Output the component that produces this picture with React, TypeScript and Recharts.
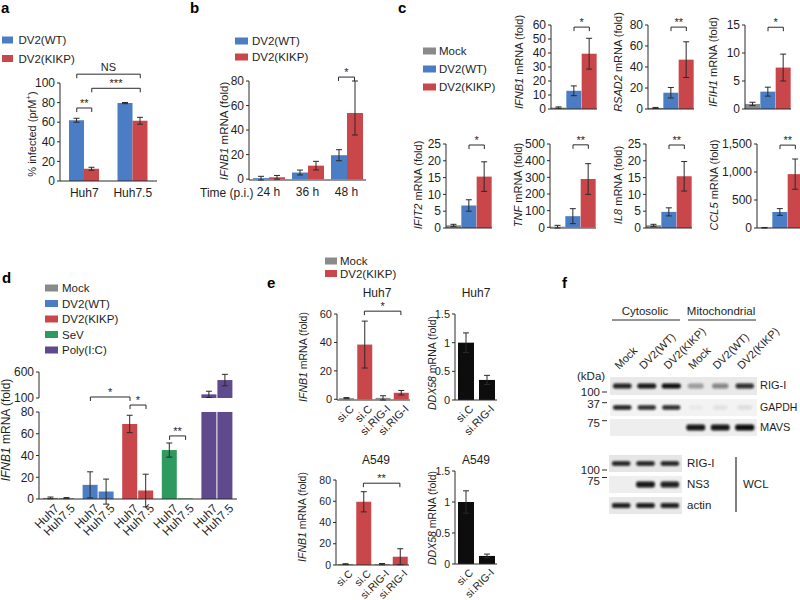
import React from 'react'
import { BarChart, Bar, XAxis, YAxis, ErrorBar, Cell, ReferenceLine } from 'recharts'

const BLUE = '#4a7dc3'
const RED = '#c9474b'
const GRAY = '#8a8a8a'
const GREEN = '#2f9a5d'
const PURPLE = '#5e4a8c'
const BLACK = '#0d0d0d'
const INK = '#1e1e1e'
const AXIS = '#2a2a2a'
const FONT = 'Arial, "Liberation Sans", Helvetica, sans-serif'

type Err = number | [number, number]

// a — % infected (prM+)
const aCells = ['Huh7', 'Huh7.5']
const aWT = [62, 79.5]
const aWTErr = [2, 0.6]
const aKIKP = [12.5, 61.5]
const aKIKPErr = [1.5, 3.5]
const aTicks = [0, 20, 40, 60, 80, 100]

// b — IFNB1 time course
const bTimes = ['24 h', '36 h', '48 h']
const bWT = [0.8, 5.4, 19.5]
const bWTErr = [1.5, 2, 4.5]
const bKIKP = [1.5, 11, 54]
const bKIKPErr: Err[] = [1.5, 3.5, [18, 26]]
const bTicks = [0, 20, 40, 60, 80]

// c — ISG panel (Mock, WT, KIKP)
const cGroups = ['Mock', 'DV2(WT)', 'DV2(KIKP)']
const cColors = [GRAY, BLUE, RED]
const cIFNB1 = [1, 13, 39.5]
const cIFNB1Err = [0.5, 3.5, 11]
const cRSAD2 = [1, 15.5, 47]
const cRSAD2Err = [0.5, 5, 17]
const cIFIH1 = [0.9, 3.1, 7.4]
const cIFIH1Err = [0.3, 0.8, 2.4]
const cIFIT2 = [0.8, 6.7, 15.3]
const cIFIT2Err = [0.3, 1.7, 4.4]
const cTNF = [4, 67, 290]
const cTNFErr = [8, 45, 92]
const cIL8 = [0.8, 4.8, 15.4]
const cIL8Err = [0.3, 1.2, 4.4]
const cCCL5 = [5, 286, 962]
const cCCL5Err = [5, 60, 270]

// d — IFNB1 in Huh7 / Huh7.5
const dTreat = ['Mock', 'DV2(WT)', 'DV2(KIKP)', 'SeV', 'Poly(I:C)']
const dColors = [GRAY, BLUE, RED, GREEN, PURPLE]
const dCells = ['Huh7', 'Huh7.5']
const dHuh7 = [1, 13, 69, 45, 170]
const dHuh7Err = [0.8, 12, 8, 6.5, 60]
const dHuh75 = [0.8, 6.8, 7.8, 0.5, 445]
const dHuh75Err = [0.5, 11.5, 15, 0, 110]

// e — RIG-I knockdown
const eSi = ['si.C', 'si.C', 'si.RIG-I', 'si.RIG-I']
const eColors = [GRAY, RED, GRAY, RED]
const eHuh7 = [0.8, 38.5, 1, 4.6]
const eHuh7Err = [0.4, 16.5, 1.5, 1.6]
const eA549 = [0.8, 59.5, 0.8, 7.8]
const eA549Err = [0.4, 9.5, 0.6, 7.5]
const eDdxSi = ['si.C', 'si.RIG-I']
const eDdxHuh7 = [1, 0.35]
const eDdxHuh7Err = [0.17, 0.08]
const eDdxA549 = [1, 0.13]
const eDdxA549Err = [0.18, 0.03]

// f — blot band intensities (0..1)
const fLanes = ['Mock', 'DV2(WT)', 'DV2(KIKP)', 'Mock', 'DV2(WT)', 'DV2(KIKP)']
const fRigI = [0.9, 0.95, 1, 0.35, 0.45, 0.85]
const fGapdh = [0.9, 0.85, 0.85, 0.04, 0.07, 0.09]
const fMavs = [0, 0, 0, 0.95, 0.95, 1]
const fWclRigI = [0.9, 0.9, 0.9]
const fWclNs3 = [0, 0.95, 0.9]
const fWclActin = [0.9, 0.92, 0.9]

type Series = { key: string; values: number[]; errs?: Err[]; fill: string | string[] }
type Bracket = { a: [number, number]; b: [number, number]; y: number; text: string }
type PanelProps = {
  x: number
  y: number
  w: number
  h: number
  cats: string[]
  series: Series[]
  barSize: number
  barGap?: number
  domain: [number, number]
  ticks: number[]
  fmt?: (v: number) => string
  xMode: 'cat' | 'rot' | 'bar' | 'line' | 'hidden'
  barLabels?: string[]
  brackets?: Bracket[]
  overflow?: boolean
  fs?: number
}

const L = 60
const T = 40
const R = 10
const B = 50
const YW = 34

function BarPanel(p: PanelProps) {
  const n = p.cats.length
  const nSer = p.series.length
  const gap = p.barGap ?? 0
  const bw = p.w / n
  const [lo, hi] = p.domain
  const fs = p.fs ?? 12
  const step = p.barSize + gap
  // bar centre in the hidden numeric axis' units (one unit per category)
  const ctr = (ci: number, si: number) => ci + 0.5 + ((si - (nSer - 1) / 2) * step) / bw

  const data = p.cats.map((cat, i) => {
    const row: Record<string, unknown> = { cat, u: i + 0.5 }
    p.series.forEach((s) => {
      const v = s.values[i]
      row[s.key] = v < lo ? null : v
      row[s.key + 'Err'] = v < lo || v > hi || !s.errs ? null : s.errs[i]
    })
    return row
  })

  const rot = (x: number, y: number, label: string, key?: number) => (
    <text
      key={key}
      transform={`translate(${x + 3},${y + 4}) rotate(-45)`}
      textAnchor="end"
      dy="0.71em"
      fontSize={fs}
      fill={INK}
    >
      {label}
    </text>
  )
  const hTick = (props: any) => (
    <text x={props.x} y={props.y + 16} textAnchor="middle" fontSize={fs} fill={INK}>
      {props.payload.value}
    </text>
  )
  const rTick = (props: any) => rot(props.x, props.y, props.payload.value)
  const perBarTick = (props: any) => (
    <g>{(p.barLabels ?? []).map((lab, si) => rot(props.x + (si - (nSer - 1) / 2) * step, props.y, lab, si))}</g>
  )

  const drop = (4 * (hi - lo)) / p.h
  const tick =
    p.xMode === 'cat' ? hTick : p.xMode === 'rot' ? rTick : p.xMode === 'bar' ? perBarTick : false

  return (
    <div style={{ position: 'absolute', left: p.x - L, top: p.y - T }}>
      <BarChart
        width={L + p.w + R}
        height={T + p.h + B}
        data={data}
        barGap={gap}
        margin={{ top: T, right: R, bottom: p.xMode === 'hidden' ? B : 0, left: L - YW }}
      >
        <XAxis
          dataKey="cat"
          hide={p.xMode === 'hidden'}
          height={B}
          interval={0}
          tickLine={false}
          tickSize={0}
          tickMargin={0}
          axisLine={{ stroke: AXIS }}
          tick={tick}
        />
        <XAxis xAxisId="n" dataKey="u" type="number" domain={[0, n]} allowDataOverflow hide height={0} />
        <YAxis
          type="number"
          domain={p.domain}
          ticks={p.ticks}
          interval={0}
          allowDataOverflow={!!p.overflow}
          width={YW}
          tickFormatter={p.fmt}
          tick={{ fontSize: fs, fill: INK }}
          tickSize={3}
          tickMargin={2}
          axisLine={{ stroke: AXIS }}
          tickLine={{ stroke: AXIS }}
        />
        {p.series.map((s) => (
          <Bar
            key={s.key}
            dataKey={s.key}
            barSize={p.barSize}
            fill={typeof s.fill === 'string' ? s.fill : undefined}
            isAnimationActive={false}
          >
            {Array.isArray(s.fill) && s.fill.map((c, i) => <Cell key={i} fill={c} />)}
            <ErrorBar dataKey={s.key + 'Err'} width={3} strokeWidth={1} stroke={AXIS} direction="y" />
          </Bar>
        ))}
        {(p.brackets ?? []).flatMap((b, k) => {
          const x1 = ctr(b.a[0], b.a[1])
          const x2 = ctr(b.b[0], b.b[1])
          return [
            <ReferenceLine
              key={`h${k}`}
              xAxisId="n"
              segment={[
                { x: x1, y: b.y },
                { x: x2, y: b.y },
              ]}
              stroke={AXIS}
              ifOverflow="visible"
              label={{ value: b.text, position: 'top', offset: b.text === 'NS' ? 3 : 1, fontSize: 11, fill: INK }}
            />,
            <ReferenceLine
              key={`l${k}`}
              xAxisId="n"
              segment={[
                { x: x1, y: b.y },
                { x: x1, y: b.y - drop },
              ]}
              stroke={AXIS}
              ifOverflow="visible"
            />,
            <ReferenceLine
              key={`r${k}`}
              xAxisId="n"
              segment={[
                { x: x2, y: b.y },
                { x: x2, y: b.y - drop },
              ]}
              stroke={AXIS}
              ifOverflow="visible"
            />,
          ]
        })}
      </BarChart>
    </div>
  )
}

function YLab({ x, y, gene, rest, fs }: { x: number; y: number; gene?: string; rest: string; fs: number }) {
  return (
    <text
      transform={`translate(${x},${y}) rotate(-90)`}
      textAnchor="middle"
      dominantBaseline="central"
      fontSize={fs}
      fill={INK}
    >
      {gene && <tspan fontStyle="italic">{gene}</tspan>}
      {rest}
    </text>
  )
}

function Key({ x, tx, rows, items, w, fs }: { x: number; tx: number; rows: number[]; items: [string, string][]; w: number; fs: number }) {
  return (
    <g>
      {items.map(([label, color], i) => (
        <g key={label + i}>
          <rect x={x} y={rows[i] - 3.5} width={w} height={7} fill={color} />
          <text x={tx} y={rows[i]} dominantBaseline="central" fontSize={fs} fill={INK}>
            {label}
          </text>
        </g>
      ))}
    </g>
  )
}

function Strip({ x, y, w, h, bg, vals, bandH }: { x: number; y: number; w: number; h: number; bg: string; vals: number[]; bandH: number }) {
  const pitch = w / vals.length
  return (
    <g>
      <rect x={x} y={y} width={w} height={h} fill={bg} />
      {vals.map((v, i) => {
        const bwid = 14 + 5 * v
        return (
          <rect
            key={i}
            x={x + pitch * (i + 0.5) - bwid / 2}
            y={y + h / 2 - bandH / 2}
            width={bwid}
            height={bandH}
            rx={2}
            fill="#080808"
            opacity={v}
            filter="url(#blot)"
          />
        )
      })}
    </g>
  )
}

const cPanels = [
  { gene: 'IFNB1', v: cIFNB1, e: cIFNB1Err, dom: [0, 60], ticks: [0, 10, 20, 30, 40, 50, 60], by: 58.5, s: '*', x: 551, y: 25, lx: 519, ly: 62 },
  { gene: 'RSAD2', v: cRSAD2, e: cRSAD2Err, dom: [0, 80], ticks: [0, 20, 40, 60, 80], by: 78, s: '**', x: 648, y: 25, lx: 617.5, ly: 62 },
  { gene: 'IFIH1', v: cIFIH1, e: cIFIH1Err, dom: [0, 15], ticks: [0, 5, 10, 15], by: 14.6, s: '*', x: 745, y: 25, lx: 713, ly: 62 },
  { gene: 'IFIT2', v: cIFIT2, e: cIFIT2Err, dom: [0, 25], ticks: [0, 5, 10, 15, 20, 25], by: 24.7, s: '*', x: 446, y: 144, lx: 417.5, ly: 185 },
  { gene: 'TNF', v: cTNF, e: cTNFErr, dom: [0, 500], ticks: [0, 100, 200, 300, 400, 500], by: 495, s: '**', x: 550, y: 144, lx: 517.5, ly: 185 },
  { gene: 'IL8', v: cIL8, e: cIL8Err, dom: [0, 25], ticks: [0, 5, 10, 15, 20, 25], by: 24.7, s: '**', x: 646, y: 144, lx: 617.5, ly: 185 },
  { gene: 'CCL5', v: cCCL5, e: cCCL5Err, dom: [0, 1500], ticks: [0, 500, 1000, 1500], by: 1480, s: '**', x: 757, y: 144, lx: 714, ly: 185 },
]

export default function App() {
  const blotLane = (i: number) => 610 + 24.5 * (i + 0.5)
  return (
    <div
      style={{
        position: 'fixed',
        left: 0,
        top: 0,
        width: 800,
        height: 600,
        overflow: 'hidden',
        background: '#fff',
        fontFamily: FONT,
      }}
    >
      {/* a */}
      <BarPanel
        x={60}
        y={83}
        w={97}
        h={98}
        cats={aCells}
        series={[
          { key: 'wt', values: aWT, errs: aWTErr, fill: BLUE },
          { key: 'kikp', values: aKIKP, errs: aKIKPErr, fill: RED },
        ]}
        barSize={15}
        domain={[0, 100]}
        ticks={aTicks}
        xMode="cat"
        brackets={[
          { a: [0, 0], b: [0, 1], y: 74.5, text: '**' },
          { a: [0, 1], b: [1, 1], y: 94.6, text: '***' },
          { a: [0, 0], b: [1, 1], y: 109, text: 'NS' },
        ]}
      />
      {/* b */}
      <BarPanel
        x={249}
        y={81}
        w={117}
        h={99}
        cats={bTimes}
        series={[
          { key: 'wt', values: bWT, errs: bWTErr, fill: BLUE },
          { key: 'kikp', values: bKIKP, errs: bKIKPErr, fill: RED },
        ]}
        barSize={16}
        domain={[0, 80]}
        ticks={bTicks}
        xMode="cat"
        brackets={[{ a: [2, 0], b: [2, 1], y: 83.2, text: '*' }]}
      />
      {/* c */}
      {cPanels.map((c) => (
        <BarPanel
          key={c.gene}
          x={c.x}
          y={c.y}
          w={46}
          h={84}
          cats={cGroups}
          series={[{ key: 'v', values: c.v, errs: c.e, fill: cColors }]}
          barSize={15}
          domain={c.dom as [number, number]}
          ticks={c.ticks}
          fmt={(v) => v.toLocaleString('en-US')}
          xMode="line"
          brackets={[{ a: [1, 0], b: [2, 0], y: c.by, text: c.s }]}
        />
      ))}
      {/* d — broken axis: upper segment then lower segment */}
      <BarPanel
        x={39}
        y={372}
        w={198}
        h={26}
        cats={dTreat}
        series={[
          { key: 'h7', values: dHuh7, errs: dHuh7Err, fill: dColors },
          { key: 'h75', values: dHuh75, errs: dHuh75Err, fill: dColors },
        ]}
        barSize={15}
        barGap={1}
        domain={[100, 600]}
        ticks={[100, 600]}
        xMode="hidden"
        overflow
      />
      <BarPanel
        x={39}
        y={412}
        w={198}
        h={87}
        cats={dTreat}
        series={[
          { key: 'h7', values: dHuh7, errs: dHuh7Err, fill: dColors },
          { key: 'h75', values: dHuh75, errs: dHuh75Err, fill: dColors },
        ]}
        barSize={15}
        barGap={1}
        domain={[0, 80]}
        ticks={[0, 20, 40, 60, 80]}
        xMode="bar"
        barLabels={dCells}
        overflow
        brackets={[
          { a: [1, 0], b: [2, 0], y: 93.8, text: '*' },
          { a: [2, 0], b: [2, 1], y: 86.4, text: '*' },
          { a: [3, 0], b: [3, 1], y: 58, text: '**' },
        ]}
      />
      {/* e */}
      <BarPanel
        x={337}
        y={314}
        w={73}
        h={86}
        cats={eSi}
        series={[{ key: 'v', values: eHuh7, errs: eHuh7Err, fill: eColors }]}
        barSize={15}
        domain={[0, 60]}
        ticks={[0, 20, 40, 60]}
        xMode="rot"
        fs={11}
        brackets={[{ a: [1, 0], b: [3, 0], y: 62, text: '*' }]}
      />
      <BarPanel
        x={455}
        y={314}
        w={42}
        h={86}
        cats={eDdxSi}
        series={[{ key: 'v', values: eDdxHuh7, errs: eDdxHuh7Err, fill: BLACK }]}
        barSize={16}
        domain={[0, 1.5]}
        ticks={[0, 0.5, 1, 1.5]}
        xMode="rot"
        fs={11}
      />
      <BarPanel
        x={336}
        y={480}
        w={73}
        h={85}
        cats={eSi}
        series={[{ key: 'v', values: eA549, errs: eA549Err, fill: eColors }]}
        barSize={15}
        domain={[0, 80]}
        ticks={[0, 20, 40, 60, 80]}
        xMode="rot"
        fs={10.5}
        brackets={[{ a: [1, 0], b: [3, 0], y: 77, text: '**' }]}
      />
      <BarPanel
        x={455}
        y={471}
        w={42}
        h={93}
        cats={eDdxSi}
        series={[{ key: 'v', values: eDdxA549, errs: eDdxA549Err, fill: BLACK }]}
        barSize={16}
        domain={[0, 1.5]}
        ticks={[0, 0.5, 1, 1.5]}
        xMode="rot"
        fs={10.5}
      />

      {/* text, legends and the blot */}
      <svg width={800} height={600} style={{ position: 'absolute', left: 0, top: 0, pointerEvents: 'none' }}>
        <defs>
          <filter id="blot" x="-20%" y="-100%" width="140%" height="300%">
            <feGaussianBlur stdDeviation="0.8" />
          </filter>
        </defs>
        {[
          ['a', 1, 13],
          ['b', 190, 13],
          ['c', 398, 13],
          ['d', 2, 283],
          ['e', 267, 288],
          ['f', 562, 288],
        ].map(([t, x, y]) => (
          <text key={t as string} x={x as number} y={y as number} fontSize={15} fontWeight="bold" fill="#000">
            {t}
          </text>
        ))}

        <Key x={2} tx={18.5} rows={[40, 58.5]} w={11} fs={11.5} items={[['DV2(WT)', BLUE], ['DV2(KIKP)', RED]]} />
        <Key x={235} tx={252} rows={[41, 57]} w={13} fs={11.5} items={[['DV2(WT)', BLUE], ['DV2(KIKP)', RED]]} />
        <Key x={423} tx={439} rows={[51, 69, 87]} w={13} fs={11.5} items={cGroups.map((g, i) => [g, cColors[i]] as [string, string])} />
        <Key x={45} tx={62} rows={[288, 303.5, 319, 334.5, 350]} w={13} fs={11.5} items={dTreat.map((g, i) => [g, dColors[i]] as [string, string])} />
        <Key x={325} tx={340} rows={[261, 273.5]} w={12} fs={11.5} items={[['Mock', GRAY], ['DV2(KIKP)', RED]]} />

        <text transform="translate(31.5,134) rotate(-90)" textAnchor="middle" dominantBaseline="central" fontSize={11} fill={INK}>
          % infected (prM<tspan fontSize={8} dy={-4}>+</tspan>
          <tspan dy={4}>)</tspan>
        </text>
        <YLab x={224} y={131} gene="IFNB1" rest=" mRNA (fold)" fs={11.5} />
        {cPanels.map((c) => (
          <YLab key={c.gene} x={c.lx} y={c.ly} gene={c.gene} rest=" mRNA (fold)" fs={11} />
        ))}
        <YLab x={6} y={430} gene="IFNB1" rest=" mRNA (fold)" fs={12} />
        <YLab x={302.5} y={357} gene="IFNB1" rest=" mRNA (fold)" fs={10.5} />
        <YLab x={432} y={363} gene="DDX58" rest=" mRNA (fold)" fs={10.5} />
        <YLab x={302} y={517} gene="IFNB1" rest=" mRNA (fold)" fs={10.5} />
        <YLab x={432} y={518} gene="DDX58" rest=" mRNA (fold)" fs={10.5} />

        <text x={200} y={197} fontSize={12} fill={INK}>
          Time (p.i.)
        </text>
        {[
          ['Huh7', 377, 293],
          ['Huh7', 476, 293],
          ['A549', 376, 460],
          ['A549', 476, 460],
        ].map(([t, x, y], i) => (
          <text key={i} x={x as number} y={y as number} textAnchor="middle" dominantBaseline="central" fontSize={12} fill={INK}>
            {t}
          </text>
        ))}

        {/* f */}
        <text x={645} y={315} textAnchor="middle" fontSize={11.5} fill={INK}>
          Cytosolic
        </text>
        <line x1={612} x2={680} y1={320} y2={320} stroke={AXIS} />
        <text x={721} y={315} textAnchor="middle" fontSize={11.5} fill={INK}>
          Mitochondrial
        </text>
        <line x1={688} x2={756} y1={320} y2={320} stroke={AXIS} />
        {fLanes.map((t, i) => (
          <text key={i} transform={`translate(${blotLane(i) - 3},370) rotate(-45)`} fontSize={11} fill={INK}>
            {t}
          </text>
        ))}
        <Strip x={610} y={377} w={147} h={18} bg="#e9e9e9" vals={fRigI} bandH={5} />
        <Strip x={610} y={399} w={147} h={17} bg="#f3f3f3" vals={fGapdh} bandH={4.5} />
        <Strip x={610} y={419} w={147} h={17} bg="#eeeeee" vals={fMavs} bandH={6} />
        <text x={577} y={380} fontSize={11.5} fill={INK}>
          (kDa)
        </text>
        {[
          ['100', 392, 392],
          ['37', 404, 402.7],
          ['75', 423, 420.7],
          ['100', 470, 470],
          ['75', 480.5, 477.5],
        ].map(([t, ty, ly], i) => (
          <g key={i}>
            <text x={600} y={ty as number} textAnchor="end" dominantBaseline="central" fontSize={11.5} fill={INK}>
              {t}
            </text>
            <line x1={602} x2={607} y1={ly as number} y2={ly as number} stroke={AXIS} />
          </g>
        ))}
        {[
          ['RIG-I', 760, 385, 11],
          ['GAPDH', 760, 407, 10.5],
          ['MAVS', 760, 427, 11],
          ['RIG-I', 687, 463, 11.5],
          ['NS3', 687, 484, 11.5],
          ['actin', 687, 505, 11.5],
          ['WCL', 743, 484, 11.5],
        ].map(([t, x, y, f], i) => (
          <text key={i} x={x as number} y={y as number} dominantBaseline="central" fontSize={f as number} fill={INK}>
            {t}
          </text>
        ))}
        <Strip x={609} y={455} w={73} h={17} bg="#e6e6e6" vals={fWclRigI} bandH={4.5} />
        <Strip x={609} y={476} w={73} h={17} bg="#eeeeee" vals={fWclNs3} bandH={6} />
        <Strip x={609} y={497} w={73} h={17} bg="#e8e8e8" vals={fWclActin} bandH={5} />
        <line x1={736} x2={736} y1={457} y2={512} stroke={AXIS} strokeWidth={1.2} />
      </svg>
    </div>
  )
}
